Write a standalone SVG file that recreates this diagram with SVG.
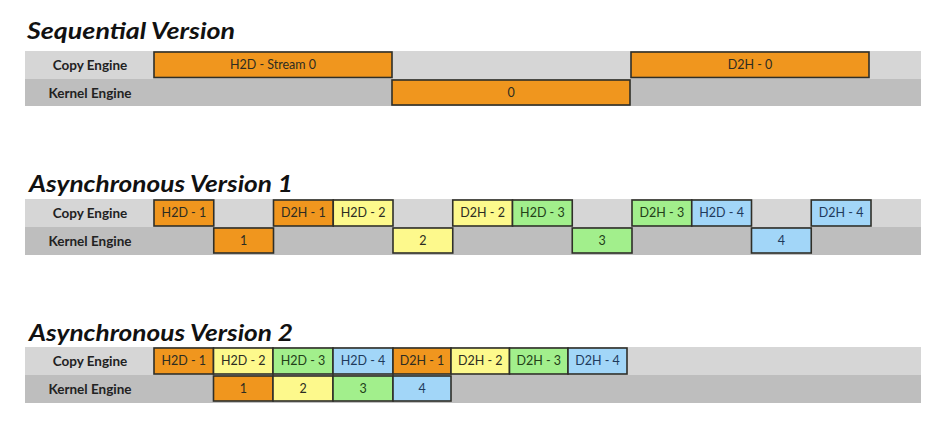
<svg xmlns="http://www.w3.org/2000/svg" width="935" height="428" viewBox="0 0 935 428">
<style>
.title{font-family:Lato,"Liberation Sans",sans-serif;font-weight:bold;font-style:italic;font-size:22px;fill:#111}
.lab{font-family:Lato,"Liberation Sans",sans-serif;font-weight:bold;font-size:13.5px;fill:#222;text-anchor:middle}
.t{font-family:Lato,"Liberation Sans",sans-serif;font-size:12.5px;fill:#2c2c22;text-anchor:middle}
.r1{fill:#d6d6d6}
.r2{fill:#bebebe}
.b{stroke:#2f2f28;stroke-width:1.6}
.o{fill:#f0961e}
.y{fill:#fdf98c}
.g{fill:#a2ef8c}
.c{fill:#a2d6f8}
.tb{fill:#1e3a5c}
.tg{fill:#234018}
</style>
<rect width="935" height="428" fill="#fff"/>

<g id="sequential">
<text class="title" x="27" y="39" textLength="208" lengthAdjust="spacingAndGlyphs">Sequential Version</text>
<rect class="r1" x="25" y="51" width="896" height="28"/>
<rect class="r2" x="25" y="79" width="896" height="27"/>
<text class="lab" x="90" y="70">Copy Engine</text>
<text class="lab" x="90" y="98">Kernel Engine</text>
<g id="seq-h2d"><rect class="b o" x="154" y="52" width="238" height="25.5"/><text class="t" x="273" y="69">H2D - Stream 0</text></g>
<g id="seq-k0"><rect class="b o" x="392" y="80" width="238" height="25"/><text class="t" x="511" y="97">0</text></g>
<g id="seq-d2h"><rect class="b o" x="631" y="52" width="238" height="25.5"/><text class="t" x="750" y="69">D2H - 0</text></g>
</g>

<g id="async1">
<text class="title" x="29" y="192" textLength="264" lengthAdjust="spacingAndGlyphs">Asynchronous Version 1</text>
<rect class="r1" x="25" y="199" width="896" height="28"/>
<rect class="r2" x="25" y="227" width="896" height="28"/>
<text class="lab" x="90" y="218">Copy Engine</text>
<text class="lab" x="90" y="246">Kernel Engine</text>
<g id="a1-h2d1"><rect class="b o" x="154" y="200" width="59.75" height="26"/><text class="t" x="183.9" y="217">H2D - 1</text></g>
<g id="a1-k1"><rect class="b o" x="213.75" y="228" width="59.75" height="25"/><text class="t" x="243.6" y="245">1</text></g>
<g id="a1-d2h1"><rect class="b o" x="273.5" y="200" width="59.75" height="26"/><text class="t" x="303.4" y="217">D2H - 1</text></g>
<g id="a1-h2d2"><rect class="b y" x="333.25" y="200" width="59.75" height="26"/><text class="t" x="363.1" y="217">H2D - 2</text></g>
<g id="a1-k2"><rect class="b y" x="393" y="228" width="59.75" height="25"/><text class="t" x="422.9" y="245">2</text></g>
<g id="a1-d2h2"><rect class="b y" x="452.75" y="200" width="59.75" height="26"/><text class="t" x="482.6" y="217">D2H - 2</text></g>
<g id="a1-h2d3"><rect class="b g" x="512.5" y="200" width="59.75" height="26"/><text class="t tg" x="542.4" y="217">H2D - 3</text></g>
<g id="a1-k3"><rect class="b g" x="572.25" y="228" width="59.75" height="25"/><text class="t tg" x="602.1" y="245">3</text></g>
<g id="a1-d2h3"><rect class="b g" x="632" y="200" width="59.75" height="26"/><text class="t tg" x="661.9" y="217">D2H - 3</text></g>
<g id="a1-h2d4"><rect class="b c" x="691.75" y="200" width="59.75" height="26"/><text class="t tb" x="721.6" y="217">H2D - 4</text></g>
<g id="a1-k4"><rect class="b c" x="751.5" y="228" width="59.75" height="25"/><text class="t tb" x="781.4" y="245">4</text></g>
<g id="a1-d2h4"><rect class="b c" x="811.25" y="200" width="59.75" height="26"/><text class="t tb" x="841.1" y="217">D2H - 4</text></g>
</g>

<g id="async2">
<text class="title" x="29" y="341" textLength="264" lengthAdjust="spacingAndGlyphs">Asynchronous Version 2</text>
<rect class="r1" x="25" y="347" width="896" height="28"/>
<rect class="r2" x="25" y="375" width="896" height="28"/>
<text class="lab" x="90" y="366">Copy Engine</text>
<text class="lab" x="90" y="394">Kernel Engine</text>
<g id="a2-h2d1"><rect class="b o" x="154" y="348" width="59.5" height="26"/><text class="t" x="183.8" y="365">H2D - 1</text></g>
<g id="a2-h2d2"><rect class="b y" x="213.5" y="348" width="59.5" height="26"/><text class="t" x="243.3" y="365">H2D - 2</text></g>
<g id="a2-h2d3"><rect class="b g" x="273" y="348" width="60" height="26"/><text class="t tg" x="303" y="365">H2D - 3</text></g>
<g id="a2-h2d4"><rect class="b c" x="333" y="348" width="60" height="26"/><text class="t tb" x="363" y="365">H2D - 4</text></g>
<g id="a2-d2h1"><rect class="b o" x="393" y="348" width="58" height="26"/><text class="t" x="422" y="365">D2H - 1</text></g>
<g id="a2-d2h2"><rect class="b y" x="451" y="348" width="58.5" height="26"/><text class="t" x="480.3" y="365">D2H - 2</text></g>
<g id="a2-d2h3"><rect class="b g" x="509.5" y="348" width="58.5" height="26"/><text class="t tg" x="538.8" y="365">D2H - 3</text></g>
<g id="a2-d2h4"><rect class="b c" x="568" y="348" width="59" height="26"/><text class="t tb" x="597.5" y="365">D2H - 4</text></g>
<g id="a2-k1"><rect class="b o" x="213.5" y="376" width="59.5" height="25"/><text class="t" x="243.3" y="393">1</text></g>
<g id="a2-k2"><rect class="b y" x="273" y="376" width="60" height="25"/><text class="t" x="303" y="393">2</text></g>
<g id="a2-k3"><rect class="b g" x="333" y="376" width="60" height="25"/><text class="t tg" x="363" y="393">3</text></g>
<g id="a2-k4"><rect class="b c" x="393" y="376" width="58" height="25"/><text class="t tb" x="422" y="393">4</text></g>
</g>
</svg>
